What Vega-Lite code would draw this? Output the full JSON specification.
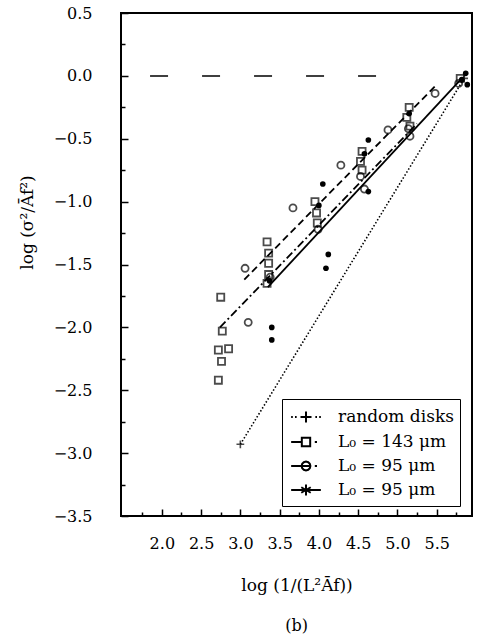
{
  "$schema": "https://vega.github.io/schema/vega-lite/v6.json",
  "width": 351,
  "height": 503,
  "autosize": {"type": "none"},
  "padding": {"left": 121, "top": 13, "right": 5, "bottom": 124},
  "background": "white",
  "config": {"view": {"stroke": "black", "strokeWidth": 2}, "font": "DejaVu Serif"},
  "title": {"text": "(b)", "orient": "bottom", "offset": 25, "fontSize": 16, "fontWeight": "normal", "font": "DejaVu Serif", "color": "black"},
  "datasets": {
    "zero": [{"x": 1.85, "x2": 5.0, "y": 0}],
    "lines": [
      {"series": "a", "x": 3.0, "y": -2.93}, {"series": "a", "x": 5.85, "y": -0.02},
      {"series": "b", "x": 2.74, "y": -2.0}, {"series": "b", "x": 5.25, "y": -0.38},
      {"series": "c", "x": 3.05, "y": -1.62}, {"series": "c", "x": 5.5, "y": -0.07},
      {"series": "d", "x": 3.35, "y": -1.68}, {"series": "d", "x": 5.82, "y": -0.02}
    ],
    "pts": [
      {"series": "a", "x": 3.0, "y": -2.93}, {"series": "a", "x": 5.85, "y": -0.02},
      {"series": "b", "x": 2.75, "y": -1.76}, {"series": "b", "x": 2.77, "y": -2.03}, {"series": "b", "x": 2.72, "y": -2.18},
      {"series": "b", "x": 2.85, "y": -2.17}, {"series": "b", "x": 2.76, "y": -2.27}, {"series": "b", "x": 2.72, "y": -2.42},
      {"series": "b", "x": 3.34, "y": -1.32}, {"series": "b", "x": 3.36, "y": -1.41}, {"series": "b", "x": 3.36, "y": -1.49},
      {"series": "b", "x": 3.36, "y": -1.58}, {"series": "b", "x": 3.34, "y": -1.65}, {"series": "b", "x": 3.95, "y": -1.0},
      {"series": "b", "x": 3.97, "y": -1.09}, {"series": "b", "x": 3.98, "y": -1.17}, {"series": "b", "x": 4.55, "y": -0.6},
      {"series": "b", "x": 4.53, "y": -0.68}, {"series": "b", "x": 4.55, "y": -0.75}, {"series": "b", "x": 5.15, "y": -0.25},
      {"series": "b", "x": 5.12, "y": -0.33}, {"series": "b", "x": 5.16, "y": -0.4}, {"series": "b", "x": 5.8, "y": -0.02},
      {"series": "c", "x": 3.06, "y": -1.53}, {"series": "c", "x": 3.1, "y": -1.96}, {"series": "c", "x": 3.67, "y": -1.05},
      {"series": "c", "x": 3.99, "y": -1.22}, {"series": "c", "x": 4.28, "y": -0.71}, {"series": "c", "x": 4.53, "y": -0.8},
      {"series": "c", "x": 4.88, "y": -0.43}, {"series": "c", "x": 5.14, "y": -0.42}, {"series": "c", "x": 5.16, "y": -0.48},
      {"series": "c", "x": 5.48, "y": -0.14}, {"series": "c", "x": 5.78, "y": -0.06}, {"series": "c", "x": 3.38, "y": -1.6},
      {"series": "c", "x": 4.58, "y": -0.9},
      {"series": "d", "x": 3.4, "y": -2.0}, {"series": "d", "x": 3.4, "y": -2.1}, {"series": "d", "x": 4.12, "y": -1.42},
      {"series": "d", "x": 4.09, "y": -1.53}, {"series": "d", "x": 4.05, "y": -0.86}, {"series": "d", "x": 4.63, "y": -0.51},
      {"series": "d", "x": 4.63, "y": -0.92}, {"series": "d", "x": 5.87, "y": 0.02}, {"series": "d", "x": 5.89, "y": -0.07},
      {"series": "d", "x": 3.37, "y": -1.63}, {"series": "d", "x": 4.0, "y": -1.03}, {"series": "d", "x": 4.58, "y": -0.62},
      {"series": "d", "x": 5.15, "y": -0.3}, {"series": "d", "x": 5.82, "y": -0.03}
    ]
  },
  "encoding": {
    "x": {
      "field": "x", "type": "quantitative",
      "scale": {"domain": [1.48, 5.95], "nice": false, "zero": false},
      "axis": {
        "values": [1.75, 2, 2.25, 2.5, 2.75, 3, 3.25, 3.5, 3.75, 4, 4.25, 4.5, 4.75, 5, 5.25, 5.5, 5.75],
        "labelExpr": "datum.value % 0.5 === 0 ? format(datum.value, '.1f') : ''",
        "tickSize": {"condition": {"test": "datum.value % 0.5 === 0", "value": -7}, "value": -4},
        "tickColor": "black", "tickWidth": 1.5, "domain": false, "grid": false,
        "labelFont": "DejaVu Serif", "labelFontSize": 16, "labelColor": "black",
        "labelPadding": 26, "labelFlush": false, "labelOverlap": false, "labelBound": false,
        "title": "log (1/(L²Āf))", "titleFont": "DejaVu Serif", "titleFontSize": 17,
        "titleFontWeight": "normal", "titleColor": "black", "titleY": 69, "titleBaseline": "middle"
      }
    },
    "y": {
      "field": "y", "type": "quantitative",
      "scale": {"domain": [-3.5, 0.5], "nice": false, "zero": false},
      "axis": {
        "values": [-3.5, -3.25, -3, -2.75, -2.5, -2.25, -2, -1.75, -1.5, -1.25, -1, -0.75, -0.5, -0.25, 0, 0.25, 0.5],
        "labelExpr": "datum.value % 0.5 === 0 ? replace(format(datum.value, '.1f'), '-', '−') : ''",
        "tickSize": {"condition": {"test": "datum.value % 0.5 === 0", "value": -7}, "value": -4},
        "tickColor": "black", "tickWidth": 1.5, "domain": false, "grid": false,
        "labelFont": "DejaVu Serif", "labelFontSize": 16, "labelColor": "black",
        "labelPadding": 36, "labelFlush": false, "labelOverlap": false, "labelBound": false,
        "title": "log (σ²/Āf²)", "titleFont": "DejaVu Serif", "titleFontSize": 17,
        "titleFontWeight": "normal", "titleColor": "black", "titleX": -94, "titleY": 209,
        "titleBaseline": "middle", "titleAlign": "center"
      }
    }
  },
  "layer": [
    {
      "data": {"name": "zero"},
      "mark": {"type": "rule", "strokeDash": [18, 34], "strokeWidth": 1.5, "color": "black"},
      "encoding": {"x2": {"field": "x2"}}
    },
    {
      "data": {"name": "lines"},
      "transform": [{"filter": "datum.series === 'a'"}],
      "mark": {"type": "line", "color": "black", "strokeWidth": 1.6, "strokeDash": [1.5, 2]},
      "encoding": {}
    },
    {
      "data": {"name": "lines"},
      "transform": [{"filter": "datum.series === 'b'"}],
      "mark": {"type": "line", "color": "black", "strokeWidth": 1.8, "strokeDash": [8, 3, 2, 3]},
      "encoding": {}
    },
    {
      "data": {"name": "lines"},
      "transform": [{"filter": "datum.series === 'c'"}],
      "mark": {"type": "line", "color": "black", "strokeWidth": 1.8, "strokeDash": [7, 4]},
      "encoding": {}
    },
    {
      "data": {"name": "lines"},
      "transform": [{"filter": "datum.series === 'd'"}],
      "mark": {"type": "line", "color": "black", "strokeWidth": 1.8},
      "encoding": {}
    },
    {
      "data": {"name": "pts"},
      "transform": [{"filter": "datum.series === 'a'"}],
      "mark": {"type": "point", "shape": "M-1,0H1M0,-1V1", "filled": false, "strokeWidth": 1.6, "color": "black", "size": 60}
    },
    {
      "data": {"name": "pts"},
      "transform": [{"filter": "datum.series === 'b'"}],
      "mark": {"type": "point", "shape": "square", "filled": false, "strokeWidth": 1.8, "color": "black", "size": 50}
    },
    {
      "data": {"name": "pts"},
      "transform": [{"filter": "datum.series === 'c'"}],
      "mark": {"type": "point", "shape": "circle", "filled": false, "strokeWidth": 1.8, "color": "black", "size": 50}
    },
    {
      "data": {"name": "pts"},
      "transform": [{"filter": "datum.series === 'd'"}],
      "mark": {"type": "circle", "color": "black", "size": 32, "opacity": 1}
    },
    {
      "data": {"name": "lines"},
      "transform": [{"filter": "false"}],
      "mark": {"type": "point", "filled": false, "color": "black", "strokeWidth": 2},
      "encoding": {
        "shape": {
          "field": "series", "type": "nominal",
          "scale": {
            "domain": ["a", "b", "c", "d"],
            "range": [
              "M-1.35,0H-1.2M-1.0,0H-0.85M-0.5,0H0.5M0,-0.5V0.5M0.85,0H1.0M1.2,0H1.35",
              "M-1.35,0H-0.38M-0.38,-0.38H0.38V0.38H-0.38ZM0.8,0H1.0",
              "M-1.35,0H0.4M0.4,0L0.346,0.2L0.2,0.346L0,0.4L-0.2,0.346L-0.346,0.2L-0.4,0L-0.346,-0.2L-0.2,-0.346L0,-0.4L0.2,-0.346L0.346,-0.2ZM0.8,0H1.0",
              "M-1.35,0H1.35M0,-0.5V0.5M-0.43,-0.25L0.43,0.25M-0.43,0.25L0.43,-0.25"
            ]
          },
          "legend": {
            "title": null,
            "orient": "none", "legendX": 161, "legendY": 386,
            "padding": 6, "rowPadding": 3, "labelOffset": 20, "symbolOffset": 6,
            "symbolSize": 484,
            "symbolStrokeWidth": 2,
            "symbolStrokeColor": "black",
            "symbolFillColor": "transparent",
            "symbolOpacity": 1,
            "labelFont": "DejaVu Serif", "labelFontSize": 17, "labelColor": "black",
            "fillColor": "white", "strokeColor": "black",
            "labelExpr": "datum.value === 'a' ? 'random disks' : datum.value === 'b' ? 'L₀ = 143 μm' : 'L₀ = 95 μm'",
            "encode": {"legend": {"update": {"stroke": {"value": "black"}, "strokeWidth": {"value": 1.8}}}}
          }
        }
      }
    }
  ]
}
